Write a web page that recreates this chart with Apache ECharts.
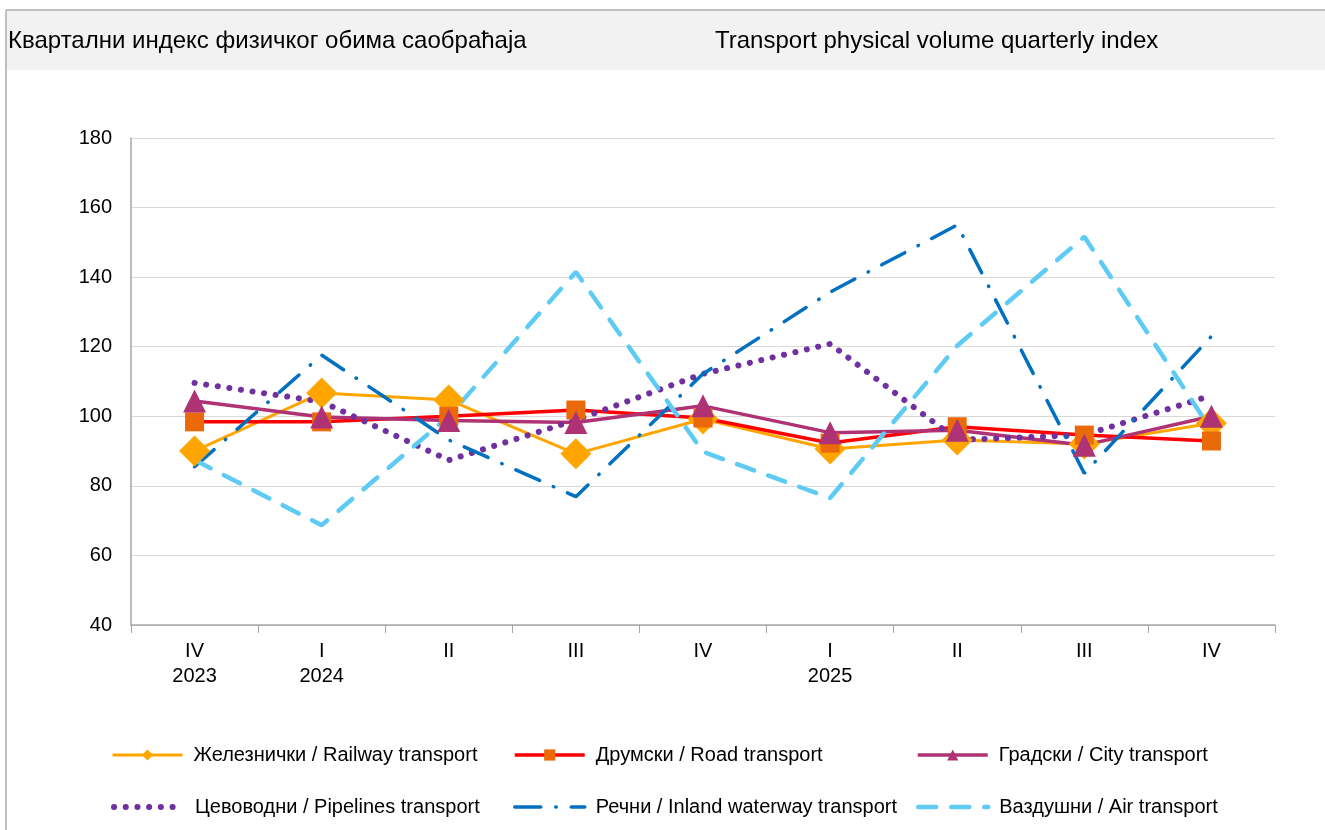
<!DOCTYPE html>
<html>
<head>
<meta charset="utf-8">
<script src="https://cdn.jsdelivr.net/npm/echarts@6/dist/echarts.min.js"></script>
<style>
  html, body { margin: 0; padding: 0; background: #fff; }
  #chart { width: 1325px; height: 830px; }
</style>
</head>
<body>
<div id="chart"></div>
<script>
// квартали
const quarters = ['IV\n2023', 'I\n2024', 'II', 'III', 'IV', 'I\n2025', 'II', 'III', 'IV']

// индекси по видовима саобраћаја
const railway = [90.0, 106.7, 104.7, 89.2, 99.2, 90.6, 93.2, 92.0, 98.0]
const road = [98.4, 98.4, 100.0, 101.8, 99.5, 92.3, 97.0, 94.6, 92.9]
const city = [104.4, 99.8, 98.8, 98.2, 103.0, 95.3, 96.0, 91.7, 100.0]
const pipelines = [109.6, 104.2, 87.4, 98.9, 112.2, 120.8, 93.2, 94.6, 106.0]
const waterway = [85.5, 117.6, 93.2, 76.9, 112.2, 135.7, 155.0, 83.6, 123.0]
const air = [87.4, 68.7, 100.0, 141.5, 89.8, 76.5, 120.3, 151.6, 96.0]

const names = [
  'Железнички / Railway transport',
  'Друмски / Road transport',
  'Градски / City transport',
  'Цевоводни / Pipelines transport',
  'Речни / Inland waterway transport',
  'Ваздушни / Air transport'
]

const chart = echarts.init(document.getElementById('chart'))

const font = 'Liberation Sans, Arial, sans-serif'

// легенда: свака ставка посебно
const legendPos = [
  [111, 755], [513, 755], [916, 755],
  [111, 807], [513, 807], [916, 807]
]
const legends = names.map((n, i) => ({
  data: [n],
  left: legendPos[i][0],
  top: legendPos[i][1] - 10,
  padding: 0,
  itemWidth: 70,
  itemHeight: 14,
  itemGap: 0,
  lineStyle: { width: 'inherit' },
  // линије без ознака немају симбол у легенди
  itemStyle: i >= 3 ? { opacity: 0 } : {},
  textStyle: { fontFamily: font, fontSize: 20, color: '#000', padding: [0, 0, 0, 6] }
}))

const option = {
  backgroundColor: '#fff',
  animation: false,
  graphic: [
    { type: 'rect', shape: { x: 6, y: 10, width: 1325, height: 60 }, style: { fill: '#f2f2f2' }, silent: true },
    { type: 'line', shape: { x1: 6, y1: 10, x2: 1325, y2: 10 }, style: { stroke: '#bfbfbf', lineWidth: 2 }, silent: true },
    { type: 'line', shape: { x1: 6, y1: 10, x2: 6, y2: 830 }, style: { stroke: '#bfbfbf', lineWidth: 2 }, silent: true },
    { type: 'text', left: 8, top: 29, style: { text: 'Квартални индекс физичког обима саобраћаја', font: '24px ' + font, fill: '#000' } },
    { type: 'text', left: 715, top: 29, style: { text: 'Transport physical volume quarterly index', font: '24px ' + font, fill: '#000' } }
  ],
  legend: legends,
  grid: { left: 131, right: 50, top: 138, bottom: 205, containLabel: false },
  xAxis: {
    type: 'category',
    data: quarters,
    boundaryGap: true,
    axisLine: { lineStyle: { color: '#a6a6a6', width: 1.5 } },
    axisTick: { show: true, length: 8, lineStyle: { color: '#a6a6a6' } },
    axisLabel: { fontFamily: font, fontSize: 20, color: '#000', margin: 14, lineHeight: 25 }
  },
  yAxis: {
    type: 'value',
    min: 40,
    max: 180,
    interval: 20,
    axisLine: { show: true, lineStyle: { color: '#a6a6a6', width: 1.5 } },
    axisTick: { show: false },
    axisLabel: { fontFamily: font, fontSize: 20, color: '#000', margin: 19 },
    splitLine: { lineStyle: { color: '#d9d9d9', width: 1 } }
  },
  series: [
    {
      name: names[0], type: 'line', data: railway,
      symbol: 'diamond', symbolSize: 31,
      itemStyle: { color: '#ffa500' },
      lineStyle: { color: '#ffa500', width: 3 }
    },
    {
      name: names[1], type: 'line', data: road,
      symbol: 'rect', symbolSize: 19,
      itemStyle: { color: '#ea6a0a' },
      lineStyle: { color: '#ff0000', width: 3.5 }
    },
    {
      name: names[2], type: 'line', data: city,
      symbol: 'triangle', symbolSize: 23,
      itemStyle: { color: '#ae3274' },
      lineStyle: { color: '#ae3274', width: 3.5 }
    },
    {
      name: names[3], type: 'line', data: pipelines,
      symbol: 'none',
      itemStyle: { color: '#7030a0' },
      lineStyle: { color: '#7030a0', width: 6, type: [0.1, 11.6], cap: 'round' }
    },
    {
      name: names[4], type: 'line', data: waterway,
      symbol: 'none',
      itemStyle: { color: '#0070c0' },
      lineStyle: { color: '#0070c0', width: 3.5, type: [26, 15, 0.5, 15], cap: 'round' }
    },
    {
      name: names[5], type: 'line', data: air,
      symbol: 'none',
      itemStyle: { color: '#5ecbf5' },
      lineStyle: { color: '#5ecbf5', width: 4.5, type: [18, 15], cap: 'round' }
    }
  ]
}

chart.setOption(option)
</script>
</body>
</html>
